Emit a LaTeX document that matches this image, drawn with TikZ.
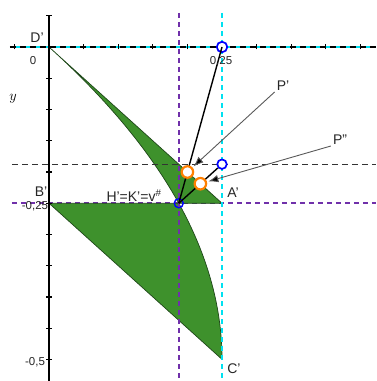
\documentclass[tikz,border=0pt]{standalone}
\usepackage{fontspec}
\setmainfont{Liberation Sans}
\usetikzlibrary{arrows.meta}
\definecolor{ggreen}{RGB}{62,145,44}
\definecolor{gedge}{RGB}{30,70,25}
\definecolor{violetline}{RGB}{112,48,170}
\definecolor{cyanline}{RGB}{0,225,240}
\definecolor{ptorange}{RGB}{255,128,0}
\tikzset{
  axisline/.style={black, line width=1.3pt},
  region/.style={fill=ggreen, draw=gedge, line width=0.7pt, line join=round},
  purpledash/.style={draw=violetline, line width=1.9pt, dash pattern=on 5pt off 4pt},
  cyandash/.style={draw=cyanline, line width=1.9pt, dash pattern=on 5pt off 4pt},
  blackdash/.style={draw=black!80, line width=1.3pt, dash pattern=on 6pt off 4pt},
  seg/.style={black, line width=1.4pt},
  leader/.style={draw=black!65, line width=0.9pt, -{Latex[length=10pt,width=7.5pt,fill=black]}},
  bluept/.style={circle, draw=blue, line width=1.7pt, fill=white, minimum size=10.5pt, inner sep=0pt},
  orangept/.style={circle, draw=ptorange, line width=2.2pt, fill=white, minimum size=11.5pt, inner sep=0pt},
  ptlabel/.style={font=\fontsize{14}{16}\selectfont, text=black!85, inner sep=0pt},
  numlabel/.style={font=\fontsize{11.5}{13}\selectfont, text=black!85, inner sep=0pt}
}
\begin{document}
\begin{tikzpicture}[x=692pt, y=625pt]
\useasboundingbox (-0.070809,0.0752) rectangle (0.472543,-0.5344);
% key points
\coordinate (D) at (0,0);
\coordinate (A) at (0.25,-0.25);
\coordinate (B) at (0,-0.25);
\coordinate (C) at (0.25,-0.5);
\coordinate (H) at (0.1875,-0.25);
\coordinate (T) at (0.25,0);
\coordinate (M) at (0.25,-0.1875);
\coordinate (Pp) at (0.2,-0.2);
\coordinate (Ppp) at (0.21875,-0.21875);
% purple horizontal (under the regions)
\draw[purpledash] (-0.0535,-0.25) -- (0.472543,-0.25);
% green regions
\path[region] (D) -- (A) -- (H) -- plot[domain=0.25:0, samples=40] ({\x-\x*\x},{-\x}) -- cycle;
\path[region] (B) -- (H) -- plot[domain=0.25:0.5, samples=50] ({\x-\x*\x},{-\x}) -- cycle;
% y axis
\draw[axisline] (0,0.0512) -- (0,-0.5344);
\foreach \k in {-10,...,1} \draw[axisline] ([xshift=-3pt]0,{\k*0.05}) -- ([xshift=3pt]0,{\k*0.05});
% black dashed horizontal
\draw[blackdash] (-0.0535,-0.1875) -- (0.472543,-0.1875);
% circle at H'
\draw[blue, line width=1.4pt] (H) circle[radius=4.5pt];
% vertical dashed lines
\draw[purpledash] (0.1875,0.0544) -- (0.1875,-0.5344);
\draw[cyandash] (0.25,0.0544) -- (0.25,-0.5344);
% x axis
\draw[cyanline, line width=1.7pt] (-0.0564,0) -- (0.472543,0);
\draw[black, line width=1.3pt, dash pattern=on 6pt off 4pt] (-0.0564,0) -- (0.472543,0);
\foreach \k in {-1,...,9} \draw[axisline] ([yshift=-2.5pt]{\k*0.05},0) -- ([yshift=2.5pt]{\k*0.05},0);
% blue points
\node[bluept] (nT) at (T) {};
\node[bluept, minimum size=9.5pt] (nM) at (M) {};
% segments
\draw[seg] (T) -- (H);
\draw[seg] (nM) -- (H);
% orange points
\node[orangept] (nPp) at (Pp) {};
\node[orangept] (nPpp) at (Ppp) {};
% labels
\node[ptlabel] (lD) at (-0.0173,0.0144) {D'};
\node[numlabel] (l0) at (-0.0231,-0.0224) {0};
\node[inner sep=0pt, font=\fontsize{15}{17}\selectfont] (ly) at (-0.052,-0.0832) {$y$};
\node[numlabel] (l025) at (0.2486,-0.0224) {0,25};
\node[numlabel] (lm025) at (-0.0202,-0.2545) {-0,25};
\node[numlabel] (lm05) at (-0.0202,-0.504) {-0,5};
\node[ptlabel] (lB) at (-0.0116,-0.2320) {B'};
\node[ptlabel] (lA) at (0.2659,-0.2336) {A'};
\node[ptlabel] (lC) at (0.2673,-0.5152) {C'};
\node[ptlabel] (lH) at (0.1228,-0.2384) {H'=K'=v$^{\#}$};
\node[ptlabel] (lP1) at (0.3382,-0.0624) {P'};
\node[ptlabel] (lP2) at (0.4205,-0.1488) {P''};
% leaders
\draw[leader, shorten >=1.5pt] ([shift={(-2pt,-1pt)}]lP1.south west) -- (nPp);
\draw[leader, shorten >=1.5pt] ([shift={(-2pt,-1pt)}]lP2.south west) -- (nPpp);
\end{tikzpicture}
\end{document}
